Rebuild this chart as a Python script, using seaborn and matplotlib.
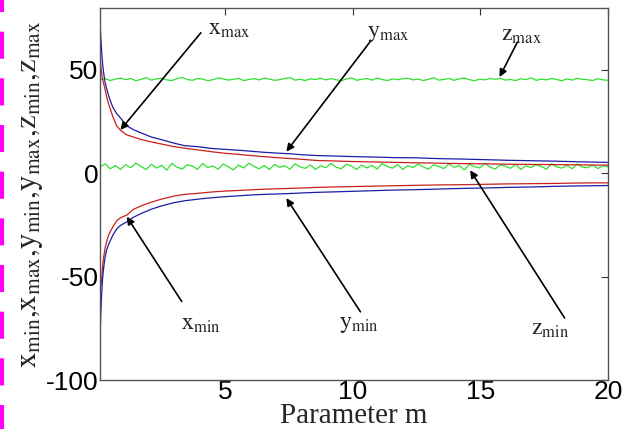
import numpy as np
import pandas as pd
import matplotlib
matplotlib.use('Agg')
import matplotlib.pyplot as plt
from matplotlib.lines import Line2D
import seaborn as sns

# ---- data ----
m_grid = [0.1, 0.13, 0.17, 0.2, 0.25, 0.3, 0.36, 0.45, 0.6, 0.75, 0.9, 1.15, 1.4, 1.7,
          2.1, 2.5, 3.0, 3.4, 4.0, 4.5, 5.0, 5.5, 6.0, 6.5, 7.0, 7.5, 8.0, 8.6, 9.2, 10,
          10.8, 11.6, 12.5, 13.4, 14.3, 15.2, 16.1, 17, 17.9, 18.8, 19.5, 20]

blue_max = [74, 66, 58, 53, 48, 44, 41, 37, 32, 29, 26.8, 23.0, 21.2, 19.6, 17.6, 16.3,
            14.6, 13.4, 12.8, 12.0, 11.6, 11.2, 10.7, 10.2, 9.8, 9.5, 9.0, 8.6, 8.4, 8.1,
            7.9, 7.6, 7.5, 7.1, 6.9, 6.6, 6.3, 6.1, 5.9, 5.6, 5.4, 5.3]
red_max = [56, 52, 48, 45.5, 43, 40.5, 37, 33, 27.5, 23, 20.8, 18.6, 17.6, 16.4, 15.2, 14.2,
           12.9, 12.2, 11.2, 10.4, 9.7, 9.2, 8.6, 8.1, 7.6, 7.2, 6.8, 6.2, 6.0, 5.7,
           5.5, 5.3, 5.1, 4.9, 4.7, 4.6, 4.4, 4.3, 4.2, 4.1, 4.0, 4.0]
red_min = [-60, -55, -50, -45, -40, -36, -33, -29.5, -26, -23, -21.5, -20.2, -17.5, -15.8,
           -14.0, -12.5, -11.0, -10.2, -9.6, -9.0, -8.6, -8.3, -8.0, -7.7, -7.5, -7.3, -7.1,
           -6.8, -6.6, -6.4, -6.2, -6.0, -5.8, -5.6, -5.5, -5.3, -5.1, -5.0, -4.9, -4.7,
           -4.6, -4.6]
blue_min = [-81, -68, -57, -51, -45, -40.5, -37, -34, -30, -27, -25.2, -23.5, -21.3, -19.5,
            -17.4, -15.8, -14.2, -13.3, -12.4, -11.8, -11.3, -10.9, -10.5, -10.2, -10.0,
            -9.8, -9.5, -9.2, -9.0, -8.7, -8.4, -8.1, -7.9, -7.6, -7.3, -7.1, -6.8, -6.6,
            -6.3, -6.1, -6.0, -5.9]

m_green = np.linspace(0.1, 20, 100)
z_max = [45.2, 45.8, 44.9, 45.6, 46.1, 45.3, 45.9, 44.8, 45.5, 46.3,
         45.1, 45.7, 46.0, 45.2, 44.9, 45.8, 46.4, 45.4, 45.0, 45.9,
         45.6, 44.8, 45.3, 46.2, 45.7, 45.1, 45.5, 46.0, 44.9, 45.4,
         45.8, 45.2, 46.1, 45.6, 45.0, 45.3, 45.9, 46.3, 45.1, 45.5,
         44.9, 45.7, 45.4, 46.0, 45.2, 45.8, 45.3, 44.8, 45.6, 46.2,
         45.0, 45.5, 45.9, 45.1, 46.1, 45.4, 44.9, 45.7, 45.3, 45.8,
         46.0, 45.2, 45.6, 44.9, 45.5, 46.3, 45.1, 45.4, 45.9, 45.0,
         45.7, 46.1, 45.3, 44.8, 45.6, 45.2, 45.9, 45.5, 46.0, 45.1,
         45.4, 44.9, 45.8, 45.3, 46.2, 45.0, 45.6, 45.2, 45.9, 45.4,
         44.8, 45.7, 45.1, 46.0, 45.5, 45.3, 44.9, 45.8, 45.2, 45.0]
z_min = [3.1, 4.6, 2.2, 3.8, 1.9, 4.2, 2.7, 5.0, 3.3, 1.8,
         4.4, 2.5, 3.9, 1.6, 4.8, 3.0, 2.1, 4.1, 3.5, 1.9,
         4.7, 2.8, 3.6, 2.0, 4.5, 3.2, 1.7, 4.0, 2.6, 4.9,
         3.4, 2.2, 3.8, 1.8, 4.3, 2.9, 3.7, 2.0, 4.6, 3.1,
         2.4, 4.1, 1.9, 3.6, 2.7, 4.8, 3.0, 2.2, 4.4, 3.5,
         1.8, 4.0, 2.6, 3.9, 2.1, 4.7, 3.3, 2.5, 4.2, 1.9,
         3.7, 2.8, 4.5, 3.1, 2.0, 4.1, 3.4, 2.3, 4.6, 2.9,
         3.8, 1.7, 4.3, 3.2, 2.6, 4.9, 3.0, 2.1, 4.0, 3.5,
         2.4, 4.4, 1.9, 3.6, 2.8, 4.2, 3.3, 2.0, 4.7, 3.1,
         2.5, 3.9, 2.2, 4.5, 3.0, 2.7, 4.1, 2.3, 3.6, 3.2]

# ---- style ----
sns.set_style('white')
plt.rcParams['font.family'] = ['Liberation Sans', 'DejaVu Sans']
plt.rcParams['mathtext.fontset'] = 'stix'
plt.rcParams['axes.unicode_minus'] = False

fig = plt.figure(figsize=(6.35, 4.29), dpi=100)
ax = fig.add_axes([0.1575, 0.1142, 0.8, 0.8672])

BLUE = '#1c1ca8'
RED = '#c8201e'
GREEN = '#2ee02e'

sns.lineplot(x=m_green, y=z_max, color=GREEN, lw=0.9, ax=ax)
sns.lineplot(x=m_green, y=z_min, color=GREEN, lw=0.9, ax=ax)
sns.lineplot(x=m_grid, y=red_max, color=RED, lw=0.9, ax=ax)
sns.lineplot(x=m_grid, y=red_min, color=RED, lw=0.9, ax=ax)
sns.lineplot(x=m_grid, y=blue_max, color=BLUE, lw=0.9, ax=ax)
sns.lineplot(x=m_grid, y=blue_min, color=BLUE, lw=0.9, ax=ax)

ax.set_xlim(0.1, 20)
ax.set_ylim(-100, 80)
ax.set_xticks([5, 10, 15, 20])
ax.set_yticks([-100, -50, 0, 50])
ax.tick_params(direction='in', length=5, width=0.8, top=True, right=True,
               labelsize=19, pad=1, colors='#333333', labelcolor='black')
ax.tick_params(axis='x', pad=0)
for s in ax.spines.values():
    s.set_color('#555555')
    s.set_linewidth(1.0)

ax.set_xlabel('Parameter m', family='Liberation Serif', fontsize=21, labelpad=-1)
ax.set_ylabel(r'$\mathrm{x_{min}{,}x_{max}{,}y_{min}{,}y_{max}{,}z_{min}{,}z_{max}}$',
              fontsize=22, labelpad=1)

# ---- annotations ----
arrow = dict(arrowstyle='-|>', color='black', lw=1.2, mutation_scale=11,
             shrinkA=0, shrinkB=0)
notes = [
    (r'$\mathrm{x}_{\mathrm{max}}$', (5.15, 70), (4.05, 68), (0.9, 21)),
    (r'$\mathrm{y}_{\mathrm{max}}$', (11.4, 68), (10.7, 64), (7.4, 10.5)),
    (r'$\mathrm{z}_{\mathrm{max}}$', (16.6, 67), (16.45, 63.5), (15.75, 46.6)),
    (r'$\mathrm{x}_{\mathrm{min}}$', (4.05, -73), (3.3, -62), (1.15, -21)),
    (r'$\mathrm{y}_{\mathrm{min}}$', (10.25, -73), (10.3, -67), (7.4, -12)),
    (r'$\mathrm{z}_{\mathrm{min}}$', (17.75, -75.5), (18.3, -70), (14.6, 1.5)),
]
for label, txt, tail, tip in notes:
    ax.annotate('', xy=tip, xytext=tail, arrowprops=arrow)
    ax.text(txt[0], txt[1], label, fontsize=17, ha='center', va='center')

# magenta dashed margin mark at the far left of the page
fig.add_artist(Line2D([0.0035, 0.0035], [1.0, 0.0], transform=fig.transFigure,
                      color='#ff00ff', lw=3, linestyle=(3.6, (6.5, 4.7)),
                      solid_capstyle='butt', dash_capstyle='butt'))

fig.savefig('out.png', dpi=100)
